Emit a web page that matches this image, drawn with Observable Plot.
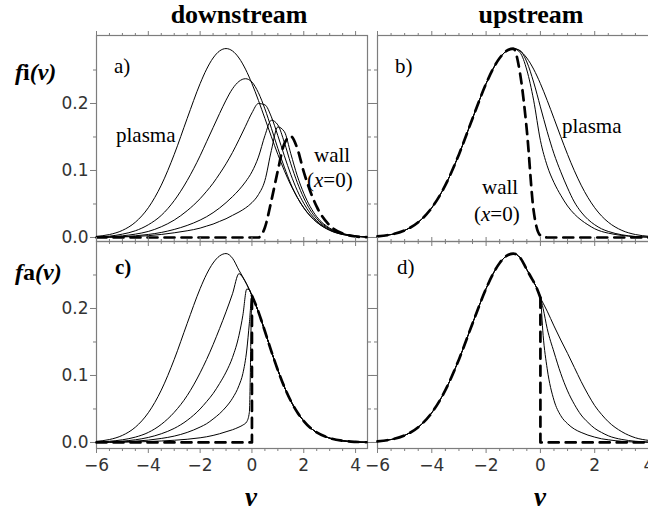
<!DOCTYPE html>
<html><head><meta charset="utf-8">
<script src="https://cdn.jsdelivr.net/npm/d3@7"></script>
<script src="https://cdn.jsdelivr.net/npm/@observablehq/plot@0.6"></script>
<style>
body{margin:0;background:#fff;}
#fig{position:relative;width:648px;height:520px;overflow:hidden;background:#fff;}
#fig svg{position:absolute;}
</style></head><body><div id="fig"></div>
<script>
// ---------------- data ----------------
const xMajorTicks = [-6, -4, -2, 0, 2, 4];
const xTickLabels = ["−6", "−4", "−2", "0", "2", "4"];
const xMinorTicks = [-5.5, -5, -4.5, -3.5, -3, -2.5, -1.5, -1, -0.5, 0.5, 1, 1.5, 2.5, 3, 3.5];
const yMajorTicks = [0, 0.1, 0.2];
const yTickLabels = ["0.0", "0.1", "0.2"];
const yMinorTicks = [0.05, 0.15, 0.25];

// velocity grid, panels a) and b)
const vAB = [-6,-5.5,-5,-4.5,-4,-3.5,-3,-2.5,-2,-1.75,-1.5,-1.25,-1,-0.75,-0.5,-0.25,0,0.25,0.5,0.75,1,1.25,1.5,1.75,2,2.25,2.5,3,3.5,4,4.42];

// a) downstream, ions
const a1 = [0.0017,0.0044,0.0106,0.0228,0.0444,0.0781,0.124,0.1777,0.2297,0.2513,0.2679,0.2784,0.282,0.2784,0.2679,0.2513,0.2297,0.2046,0.1777,0.1504,0.124,0.0997,0.0781,0.0597,0.0444,0.0322,0.0228,0.0106,0.0044,0.0017,0.0007];
const a2 = [0.001,0.002,0.005,0.01,0.019,0.033,0.055,0.085,0.122,0.143,0.164,0.185,0.205,0.222,0.233,0.237,0.232,0.216,0.192,0.163,0.133,0.105,0.08,0.06,0.044,0.032,0.023,0.011,0.0045,0.0018,0.0008];
const a3 = [0.0005,0.001,0.0025,0.005,0.009,0.016,0.026,0.04,0.058,0.069,0.081,0.095,0.11,0.127,0.146,0.166,0.186,0.2,0.198,0.18,0.152,0.122,0.094,0.07,0.051,0.036,0.025,0.012,0.005,0.002,0.0008];
const a4 = [0.0003,0.0006,0.0012,0.0025,0.0045,0.0075,0.012,0.018,0.026,0.031,0.037,0.044,0.052,0.061,0.071,0.083,0.098,0.12,0.152,0.175,0.168,0.142,0.11,0.082,0.059,0.041,0.028,0.013,0.0055,0.002,0.0009];
const a5 = [0.0002,0.0004,0.0008,0.0015,0.0027,0.0045,0.007,0.01,0.014,0.017,0.02,0.024,0.028,0.033,0.038,0.044,0.052,0.064,0.085,0.13,0.165,0.158,0.125,0.092,0.066,0.046,0.031,0.014,0.006,0.0022,0.001];
const aWall = [0,0,0,0,0,0,0,0,0,0,0,0,0,0,0,0,0,0,0.015,0.055,0.1,0.14,0.151,0.133,0.098,0.069,0.046,0.018,0.006,0.0015,0.0005];

// b) upstream, ions (common left side up to v = -1, then right sides)
const bLeft = [0.0017,0.0044,0.0106,0.0228,0.0444,0.0781,0.124,0.1777,0.2297,0.2513,0.2679,0.2784,0.282];
const b1Right = [0.2784,0.2679,0.2513,0.2297,0.2046,0.1777,0.1504,0.124,0.0997,0.0781,0.0597,0.0444,0.0322,0.0228,0.0106,0.0044,0.0017,0.0007];
const b2Right = [0.279,0.262,0.232,0.195,0.158,0.125,0.098,0.074,0.053,0.038,0.027,0.019,0.013,0.009,0.004,0.0015,0.0006,0.0003];
const b3Right = [0.276,0.25,0.205,0.145,0.107,0.082,0.063,0.047,0.035,0.026,0.019,0.013,0.009,0.0065,0.003,0.0012,0.0005,0.0002];
const bWallRight = [0.245,0.16,0.04,0.003,0,0,0,0,0,0,0,0,0,0,0,0,0,0];

// velocity grid, panels c) and d)
const vCD = [-6,-5.5,-5,-4.5,-4,-3.5,-3,-2.5,-2,-1.75,-1.5,-1.25,-1,-0.75,-0.5,-0.35,-0.2,-0.1,0,0.1,0.25,0.5,0.75,1,1.25,1.5,1.75,2,2.25,2.5,3,3.5,4,4.42];

// c) downstream, atoms (left sides up to v = 0, common right side)
const c1Left = [0.0017,0.0044,0.0106,0.0228,0.0444,0.0781,0.124,0.1777,0.2297,0.2513,0.2679,0.2784,0.282,0.275,0.257,0.247,0.236,0.228,0.219];
const c2Left = [0.0008,0.0018,0.004,0.008,0.015,0.027,0.045,0.07,0.104,0.124,0.146,0.17,0.195,0.222,0.252,0.246,0.236,0.228,0.219];
const c3Left = [0.0004,0.0009,0.002,0.004,0.0075,0.013,0.021,0.033,0.05,0.061,0.073,0.088,0.105,0.127,0.16,0.19,0.229,0.228,0.219];
const c4Left = [0.0002,0.0005,0.001,0.002,0.0035,0.006,0.0095,0.015,0.023,0.028,0.035,0.043,0.053,0.066,0.085,0.103,0.138,0.178,0.219];
const c5Left = [0.0001,0.0002,0.0004,0.0008,0.0014,0.0022,0.0033,0.0048,0.007,0.0085,0.0105,0.013,0.016,0.019,0.023,0.026,0.031,0.045,0.219];
const cRight = [0.21,0.195,0.166,0.136,0.108,0.083,0.062,0.045,0.032,0.022,0.015,0.0065,0.0025,0.0009,0.0003];
const vWallStepC = [-6, 0, 0];
const fWallStepC = [0, 0, 0.219];

// d) upstream, atoms (common left side up to v = 0, right sides)
const dLeft = [0.0017,0.0044,0.0106,0.0228,0.0444,0.0781,0.124,0.1777,0.2297,0.2513,0.2679,0.2784,0.282,0.276,0.258,0.247,0.236,0.227,0.216];
const d1Right = [0.208,0.196,0.174,0.153,0.133,0.112,0.091,0.072,0.055,0.042,0.031,0.016,0.007,0.003,0.0012];
const d2Right = [0.2,0.17,0.135,0.103,0.077,0.057,0.041,0.03,0.021,0.015,0.01,0.0045,0.0018,0.0007,0.0003];
const d3Right = [0.16,0.11,0.063,0.04,0.028,0.02,0.015,0.011,0.008,0.0055,0.004,0.0017,0.0007,0.0003,0.0001];
const vWallStepD = [0, 0, 4.46];
const fWallStepD = [0.216, 0, 0];

// ---------------- drawing ----------------
const frameColor = "#7d7d7d";
const tickFont = "DejaVu Sans";
const serif = "Liberation Serif";
const rows = (v, f, key) => v.map((x, i) => ({v: x, f: f[i], key}));
const nCD = 19;

function panel(o) {
  const marks = [Plot.frame({stroke: frameColor, strokeWidth: 1.2})];
  for (const anchor of ["top", "bottom"]) {
    marks.push(Plot.axisX({anchor, ticks: xMajorTicks, tickSize: 5, stroke: frameColor, fill: "none", label: null}));
    marks.push(Plot.axisX({anchor, ticks: xMinorTicks, tickSize: 3, stroke: frameColor, fill: "none", label: null}));
  }
  for (const anchor of ["left", "right"]) {
    marks.push(Plot.axisY({anchor, ticks: yMajorTicks, tickSize: 6, stroke: frameColor, fill: "none", label: null}));
    marks.push(Plot.axisY({anchor, ticks: yMinorTicks, tickSize: 3, stroke: frameColor, fill: "none", label: null}));
  }
  if (o.xLabels) marks.push(Plot.axisX({anchor: "bottom", ticks: xMajorTicks, tickSize: 0, tickPadding: 10,
    tickFormat: d => xTickLabels[xMajorTicks.indexOf(d)], fill: "#333", fontSize: 17, fontFamily: tickFont, label: null}));
  if (o.yLabels) marks.push(Plot.axisY({anchor: "left", ticks: yMajorTicks, tickSize: 0, tickPadding: 8,
    tickFormat: d => yTickLabels[yMajorTicks.indexOf(d)], fill: "#333", fontSize: 17, fontFamily: tickFont, label: null}));
  marks.push(Plot.line(o.solid, {x: "v", y: "f", z: "key", stroke: "black", strokeWidth: 1, curve: "monotone-x"}));
  for (const d of o.dashed) {
    marks.push(Plot.line(d.data, {x: "v", y: "f", stroke: "black", strokeWidth: 2.7, strokeDasharray: "10,7", curve: d.curve}));
  }
  const svg = Plot.plot({
    width: o.width, height: o.height,
    marginLeft: o.mL, marginRight: o.mR, marginTop: o.mT, marginBottom: o.mB,
    x: {domain: [-6, 4.46]}, y: {domain: o.yDomain},
    marks
  });
  svg.style.background = "transparent";
  svg.style.maxWidth = "none";
  svg.style.overflow = "visible";
  svg.style.left = o.left + "px";
  svg.style.top = o.top + "px";
  document.getElementById("fig").appendChild(svg);
}

const topY = [-0.006, 0.3015];
const botY = [-0.009, 0.3];

// a)
panel({left: 0, top: 0, width: 377, height: 249, mL: 96, mR: 10, mT: 35, mB: 8, yDomain: topY, yLabels: true,
  solid: [...rows(vAB, a1, 1), ...rows(vAB, a2, 2), ...rows(vAB, a3, 3), ...rows(vAB, a4, 4), ...rows(vAB, a5, 5)],
  dashed: [{data: rows(vAB, aWall, 0), curve: "monotone-x"}]});
// b)
panel({left: 367, top: 0, width: 304, height: 249, mL: 10, mR: 10, mT: 35, mB: 8, yDomain: topY,
  solid: [...rows(vAB, [...bLeft, ...b1Right], 1), ...rows(vAB, [...bLeft, ...b2Right], 2), ...rows(vAB, [...bLeft, ...b3Right], 3)],
  dashed: [{data: rows(vAB, [...bLeft, ...bWallRight], 0), curve: "monotone-x"}]});
// c)
panel({left: 0, top: 233, width: 377, height: 287, mL: 96, mR: 10, mT: 8, mB: 72, yDomain: botY, yLabels: true, xLabels: true,
  solid: [c1Left, c2Left, c3Left, c4Left, c5Left].flatMap((l, k) => rows(vCD, [...l, ...cRight], k)),
  dashed: [{data: rows(vWallStepC, fWallStepC, 0), curve: "linear"},
           {data: rows(vCD.slice(nCD - 1), [fWallStepC[2], ...cRight], 0), curve: "monotone-x"}]});
// d)
panel({left: 367, top: 233, width: 304, height: 287, mL: 10, mR: 10, mT: 8, mB: 72, yDomain: botY, xLabels: true,
  solid: [d1Right, d2Right, d3Right].flatMap((r, k) => rows(vCD, [...dLeft, ...r], k)),
  dashed: [{data: rows(vCD.slice(0, nCD), dLeft, 0), curve: "monotone-x"},
           {data: rows(vWallStepD, fWallStepD, 0), curve: "linear"}]});

// ---------------- text overlay ----------------
const ov = d3.select("#fig").append("svg").attr("width", 648).attr("height", 520)
  .style("left", "0px").style("top", "0px").style("pointer-events", "none");
function txt(x, y, parts, size, anchor = "start", weight = "normal") {
  const t = ov.append("text").attr("x", x).attr("y", y).attr("font-family", serif)
    .attr("font-size", size).attr("text-anchor", anchor).attr("font-weight", weight).attr("fill", "black");
  for (const p of parts) {
    const s = t.append("tspan").text(p.t);
    if (p.i) s.attr("font-style", "italic");
  }
}
txt(239, 23, [{t: "downstream"}], 26, "middle", "bold");
txt(531, 23, [{t: "upstream"}], 26, "middle", "bold");
txt(15, 80, [{t: "f", i: 1}, {t: "i"}, {t: "(", i: 1}, {t: "v", i: 1}, {t: ")", i: 1}], 24, "start", "bold");
txt(15, 280, [{t: "f", i: 1}, {t: "a"}, {t: "(", i: 1}, {t: "v", i: 1}, {t: ")", i: 1}], 24, "start", "bold");
txt(114, 73, [{t: "a)"}], 21);
txt(116, 142, [{t: "plasma"}], 21);
txt(314, 162, [{t: "wall"}], 21);
txt(307, 187, [{t: "("}, {t: "x", i: 1}, {t: "=0)"}], 21);
txt(395, 73, [{t: "b)"}], 21);
txt(562, 133, [{t: "plasma"}], 21);
txt(482, 194, [{t: "wall"}], 21);
txt(474, 221, [{t: "("}, {t: "x", i: 1}, {t: "=0)"}], 21);
txt(115, 274, [{t: "c)"}], 21, "start", "bold");
txt(397, 274, [{t: "d)"}], 21);
txt(251, 506, [{t: "v", i: 1}], 27, "middle", "bold");
txt(540, 506, [{t: "v", i: 1}], 27, "middle", "bold");
</script></body></html>
